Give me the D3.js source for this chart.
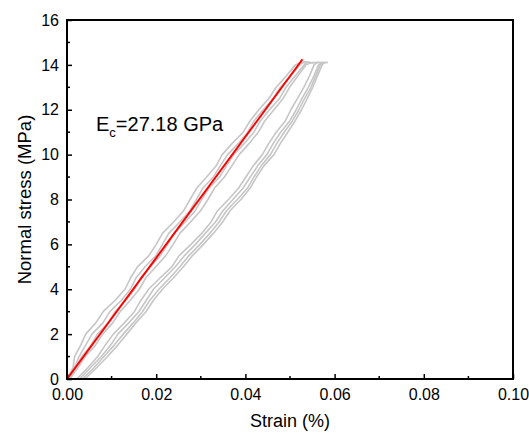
<!DOCTYPE html>
<html><head><meta charset="utf-8">
<script src="https://cdn.jsdelivr.net/npm/d3@7/dist/d3.min.js"></script>
<style>body{margin:0;background:#fff}svg{display:block}text{font-family:"Liberation Sans",Arial,sans-serif;fill:#000}</style>
</head><body><svg id="c" width="529" height="433"></svg>
<script>
// ---- data ----
const xTicks = [0.00, 0.02, 0.04, 0.06, 0.08, 0.10];
const yTicks = [0, 2, 4, 6, 8, 10, 12, 14, 16];
const xTitle = "Strain (%)";
const yTitle = "Normal stress (MPa)";

// shared stress levels (MPa) for the grey test curves
const stressLevels = [0,0.5,1,1.5,2,2.5,3,3.5,4,4.5,5,5.5,6,6.5,7,7.5,8,8.5,9,9.5,10,10.5,11,11.5,12,12.5,13,13.5,14];

// strain (%) of each grey curve at the stress levels above, then its top tail [strain, stress]
const curveU1 = [0,.00135,.0017,.00305,.0042,.00645,.0081,.01075,.013,.01425,.0158,.01835,.02,.02145,.0239,.02615,.0276,.02905,.0313,.03345,.0348,.03705,.0395,.04105,.043,.04525,.0469,.04915,.0512];
const tailU1 = [[.0525,14.12],[.0535,14.08]];
const curveU2 = [.0002,.00165,.0027,.00415,.0056,.00805,.0096,.01215,.0142,.01545,.0175,.01995,.0214,.02285,.0253,.02755,.029,.03045,.0328,.03435,.036,.03845,.0405,.04195,.044,.04625,.0478,.05015,.0522];
const tailU2 = [[.0532,14.15],[.0545,14.1]];
const curveU3 = [.0004,.00185,.0033,.00535,.0068,.00925,.0108,.01315,.0152,.01645,.0187,.02095,.0226,.02405,.0265,.02875,.0302,.03185,.0342,.03575,.0374,.03975,.0419,.04335,.0454,.04765,.0491,.05115,.0532];
const tailU3 = [[.054,14.12],[.0552,14.08]];
const curveU4 = [.0006,.00245,.0041,.00635,.008,.01025,.0119,.01415,.0162,.01765,.0199,.02215,.0238,.02535,.0277,.02995,.0316,.03305,.0353,.03695,.0386,.04085,.0429,.04435,.0464,.04845,.0499,.05175,.0536];
const tailU4 = [[.0548,14.1],[.0562,14.1]];
const curveL1 = [.0022,.00465,.0069,.00855,.0104,.01285,.0151,.01655,.0183,.02085,.0235,.02515,.0278,.03025,.0323,.03375,.0362,.03845,.0401,.04175,.0438,.04525,.0469,.04895,.0502,.05165,.0531,.05435,.0554];
const tailL1 = [[.0562,14.12],[.0572,14.1]];
const curveL2 = [.0028,.00525,.0077,.00975,.0114,.01385,.0161,.01775,.0194,.02185,.0243,.02635,.0288,.03105,.0333,.03495,.0372,.03945,.0411,.04275,.0448,.04625,.0479,.04995,.0514,.05265,.0541,.05535,.0564];
const tailL2 = [[.0572,14.12],[.058,14.08]];
const curveL3 = [.0034,.00605,.0083,.01055,.0126,.01485,.0169,.01855,.0206,.02305,.0253,.02735,.0298,.03205,.0341,.03575,.0382,.04045,.0419,.04355,.0456,.04705,.0487,.05055,.052,.05325,.0547,.05575,.0568];
const tailL3 = [[.0575,14.1]];
const curveL4 = [.004,.00665,.0091,.01135,.0134,.01545,.0177,.01935,.0214,.02385,.0261,.02815,.0306,.03285,.0349,.03655,.039,.04105,.0425,.04415,.0464,.04785,.0495,.05115,.0526,.05385,.0551,.05615,.0572];
const tailL4 = [[.0578,14.12],[.0585,14.1]];

// linear fit line (red): [strain, stress]
const fitLine = [[0, 0], [0.0528, 14.25]];
const annotation = {main: "E", sub: "c", rest: "=27.18 GPa"};

// ---- drawing ----
const svg = d3.select("#c");
const m = {l: 67, r: 16, t: 20, b: 54};
const W = 529, H = 433;
const x = d3.scaleLinear().domain([0, 0.10]).range([m.l, W - m.r]);
const y = d3.scaleLinear().domain([0, 16]).range([H - m.b, m.t]);

const greyCurves = [[curveU1,tailU1],[curveU2,tailU2],[curveU3,tailU3],[curveU4,tailU4],
                    [curveL1,tailL1],[curveL2,tailL2],[curveL3,tailL3],[curveL4,tailL4]];
const line = d3.line().x(d => x(d[0])).y(d => y(d[1]));

const plot = svg.append("g");
greyCurves.forEach(([strains, tail]) => {
  const pts = strains.map((s, i) => [s, stressLevels[i]]).concat(tail);
  plot.append("path").attr("d", line(pts)).attr("fill", "none")
    .attr("stroke", "#c6c6c6").attr("stroke-width", 1.6).attr("stroke-linejoin", "round");
});
plot.append("path").attr("d", line(fitLine)).attr("fill", "none")
  .attr("stroke", "#ff0000").attr("stroke-width", 2);

// axes (ticks pointing inward)
const xAxis = d3.axisBottom(x).tickValues(xTicks).tickFormat(d3.format(".2f")).tickSizeInner(-5).tickSizeOuter(0).tickPadding(10);
const yAxis = d3.axisLeft(y).tickValues(yTicks).tickFormat(d3.format("d")).tickSizeInner(-5).tickSizeOuter(0).tickPadding(8);
const gx = svg.append("g").attr("transform", `translate(0,${H - m.b})`).call(xAxis);
const gy = svg.append("g").attr("transform", `translate(${m.l},0)`).call(yAxis);
[gx, gy].forEach(g => {
  g.select(".domain").remove();
  g.selectAll(".tick line").attr("stroke", "#000").attr("stroke-width", 1.5);
  g.selectAll("text").style("font-size", "16px").attr("fill", "#000");
});
// minor ticks
const xMinor = xTicks.slice(0, -1).map((d, i) => (d + xTicks[i + 1]) / 2);
const yMinor = yTicks.slice(0, -1).map((d, i) => (d + yTicks[i + 1]) / 2);
svg.append("g").selectAll("line").data(xMinor).join("line")
  .attr("x1", d => x(d)).attr("x2", d => x(d)).attr("y1", H - m.b).attr("y2", H - m.b - 3)
  .attr("stroke", "#000").attr("stroke-width", 1.5);
svg.append("g").selectAll("line").data(yMinor).join("line")
  .attr("y1", d => y(d)).attr("y2", d => y(d)).attr("x1", m.l).attr("x2", m.l + 3)
  .attr("stroke", "#000").attr("stroke-width", 1.5);

// frame
svg.append("rect").attr("x", m.l).attr("y", m.t).attr("width", W - m.r - m.l).attr("height", H - m.b - m.t)
  .attr("fill", "none").attr("stroke", "#000").attr("stroke-width", 2);

// titles
svg.append("text").attr("x", (m.l + W - m.r) / 2).attr("y", 427).attr("text-anchor", "middle")
  .style("font-size", "18px").text(xTitle);
svg.append("text").attr("transform", `translate(31,${(m.t + H - m.b) / 2}) rotate(-90)`).attr("text-anchor", "middle")
  .style("font-size", "18.5px").text(yTitle);

// annotation
const ann = svg.append("text").attr("x", 96).attr("y", 131).style("font-size", "20px");
ann.append("tspan").text(annotation.main);
ann.append("tspan").attr("dy", 6).style("font-size", "13px").text(annotation.sub);
ann.append("tspan").attr("dy", -6).text(annotation.rest);
</script></body></html>
